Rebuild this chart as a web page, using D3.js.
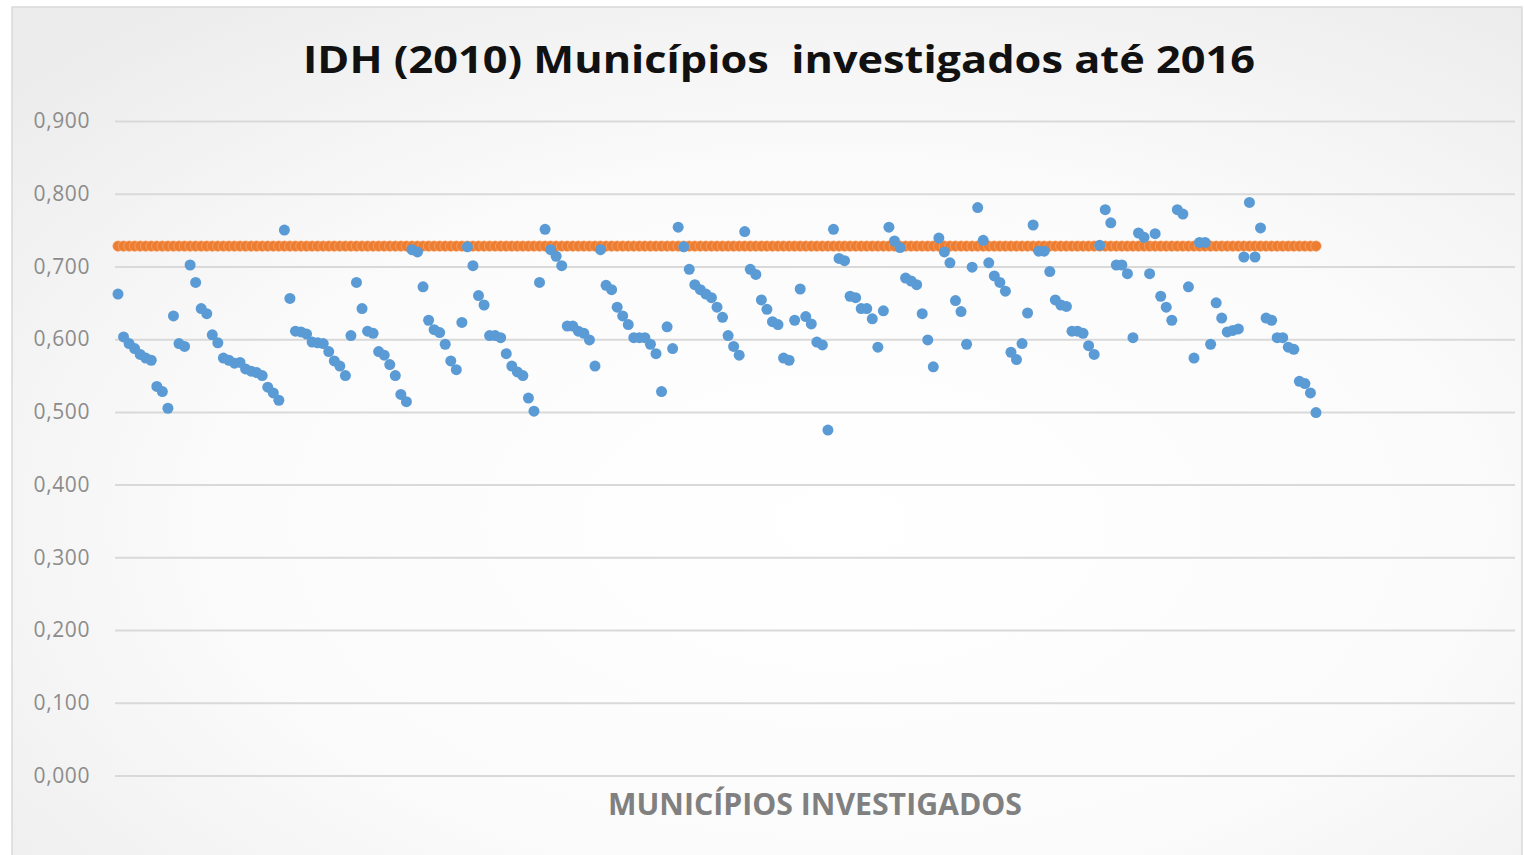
<!DOCTYPE html>
<html>
<head>
<meta charset="utf-8">
<script src="https://cdn.jsdelivr.net/npm/d3@7"></script>
<style>
  body { margin: 0; background: #fff; }
  svg { display: block; }
</style>
</head>
<body>
<div id="chart"></div>
<script>
const chartTitle = "IDH (2010) Municípios  investigados até 2016";
const xTitle = "MUNICÍPIOS INVESTIGADOS";
const yTicks = [0, 0.1, 0.2, 0.3, 0.4, 0.5, 0.6, 0.7, 0.8, 0.9];

// IDH Brasil 2010 (reference line)
const idhBrasil = 0.728;

// IDH of each investigated municipality, in chart order
const idhMunicipios = [
  0.662, 0.603, 0.594, 0.587, 0.579, 0.574, 0.571, 0.535, 0.528, 0.505,
  0.632, 0.594, 0.590, 0.702, 0.678, 0.642, 0.635, 0.606, 0.595, 0.574,
  0.571, 0.567, 0.568, 0.559, 0.556, 0.554, 0.550, 0.534, 0.526, 0.516,
  0.750, 0.656, 0.611, 0.610, 0.607, 0.596, 0.595, 0.594, 0.583, 0.570,
  0.563, 0.550, 0.605, 0.678, 0.642, 0.611, 0.608, 0.583, 0.578, 0.565,
  0.550, 0.524, 0.514, 0.723, 0.720, 0.672, 0.626, 0.613, 0.609, 0.593,
  0.570, 0.558, 0.623, 0.727, 0.701, 0.660, 0.647, 0.605, 0.605, 0.602,
  0.580, 0.563, 0.555, 0.550, 0.519, 0.501, 0.678, 0.751, 0.723, 0.714,
  0.701, 0.618, 0.618, 0.611, 0.608, 0.599, 0.563, 0.723, 0.674, 0.668,
  0.644, 0.632, 0.620, 0.602, 0.602, 0.602, 0.593, 0.580, 0.528, 0.617,
  0.587,
  0.754, 0.727, 0.696, 0.675, 0.668, 0.662, 0.657, 0.644, 0.630, 0.605,
  0.590, 0.578, 0.748, 0.696, 0.689, 0.654, 0.641, 0.624, 0.620, 0.574,
  0.571, 0.626, 0.669, 0.631, 0.621, 0.596, 0.592,
  0.475, 0.751, 0.711, 0.708, 0.659, 0.657, 0.642, 0.642, 0.628, 0.589,
  0.639, 0.754, 0.735, 0.726, 0.684, 0.680, 0.675, 0.635, 0.599, 0.562,
  0.739, 0.720, 0.705, 0.653, 0.638, 0.593, 0.699,
  0.781, 0.736, 0.705, 0.687, 0.678, 0.666, 0.582, 0.572, 0.594, 0.636,
  0.757, 0.721, 0.721, 0.693, 0.654, 0.647, 0.645, 0.611, 0.611, 0.608,
  0.591, 0.579, 0.729, 0.778, 0.760, 0.702, 0.702, 0.690,
  0.602, 0.746, 0.740, 0.690, 0.745, 0.659, 0.644, 0.626, 0.778, 0.772,
  0.672, 0.574, 0.733, 0.733, 0.593, 0.650, 0.629, 0.610, 0.612, 0.614,
  0.713,
  0.788, 0.713, 0.753, 0.629, 0.626, 0.602, 0.602, 0.589, 0.586, 0.542,
  0.539, 0.526, 0.499
];

const width = 1524;
const height = 855;

const svg = d3.select("#chart")
  .append("svg")
  .attr("width", width)
  .attr("height", height);

// chart area background: soft radial gradient like an office chart
const defs = svg.append("defs");
const grad = defs.append("radialGradient")
  .attr("id", "bg")
  .attr("cx", "55%").attr("cy", "60%").attr("r", "75%");
grad.append("stop").attr("offset", "0%").attr("stop-color", "#ffffff");
grad.append("stop").attr("offset", "55%").attr("stop-color", "#fbfbfb");
grad.append("stop").attr("offset", "100%").attr("stop-color", "#ececec");

svg.append("rect")
  .attr("x", 12).attr("y", 7)
  .attr("width", 1510).attr("height", 860)
  .attr("fill", "url(#bg)")
  .attr("stroke", "#d9d9d9")
  .attr("stroke-width", 1.5);

const x = d3.scaleLinear()
  .domain([0, idhMunicipios.length - 1])
  .range([118, 1316]);

const y = d3.scaleLinear()
  .domain([0, 0.9])
  .range([775.5, 121]);

const fmt = (v) => d3.format(".3f")(v).replace(".", ",");

// gridlines + tick labels
const yAxis = d3.axisLeft(y)
  .tickValues(yTicks)
  .tickSize(-(1515 - 115))
  .tickPadding(25)
  .tickFormat(fmt);

const axisG = svg.append("g")
  .attr("transform", "translate(115,0)")
  .call(yAxis);

axisG.select(".domain").remove();
axisG.selectAll(".tick line")
  .attr("stroke", "#d9d9d9")
  .attr("stroke-width", 2);
axisG.selectAll(".tick text")
  .attr("fill", "#8c8c8c")
  .attr("font-family", "'Open Sans', sans-serif")
  .attr("font-size", 21)
  .attr("letter-spacing", 0.6);

// reference line (IDH Brasil) drawn as markers
svg.append("g")
  .selectAll("circle")
  .data(idhMunicipios.map(() => idhBrasil))
  .join("circle")
  .attr("cx", (d, i) => x(i))
  .attr("cy", (d) => y(d))
  .attr("r", 5.3)
  .attr("fill", "#ed7d31")
  .attr("stroke", "#f6b88f")
  .attr("stroke-width", 0.5);

// municipalities
svg.append("g")
  .selectAll("circle")
  .data(idhMunicipios)
  .join("circle")
  .attr("cx", (d, i) => x(i))
  .attr("cy", (d) => y(d))
  .attr("r", 5.5)
  .attr("fill", "#5b9bd5");

// title
svg.append("text")
  .attr("x", 779)
  .attr("y", 73)
  .attr("text-anchor", "middle")
  .attr("font-family", "'Open Sans', sans-serif")
  .attr("font-weight", 700)
  .attr("font-size", 37)
  .attr("fill", "#111")
  .attr("textLength", 952)
  .attr("lengthAdjust", "spacingAndGlyphs")
  .style("white-space", "pre")
  .text(chartTitle);

// x axis title
svg.append("text")
  .attr("x", 815)
  .attr("y", 815)
  .attr("text-anchor", "middle")
  .attr("font-family", "'Open Sans', sans-serif")
  .attr("font-weight", 700)
  .attr("font-size", 31)
  .attr("fill", "#808080")
  .attr("textLength", 414)
  .attr("lengthAdjust", "spacingAndGlyphs")
  .text(xTitle);
</script>
</body>
</html>
